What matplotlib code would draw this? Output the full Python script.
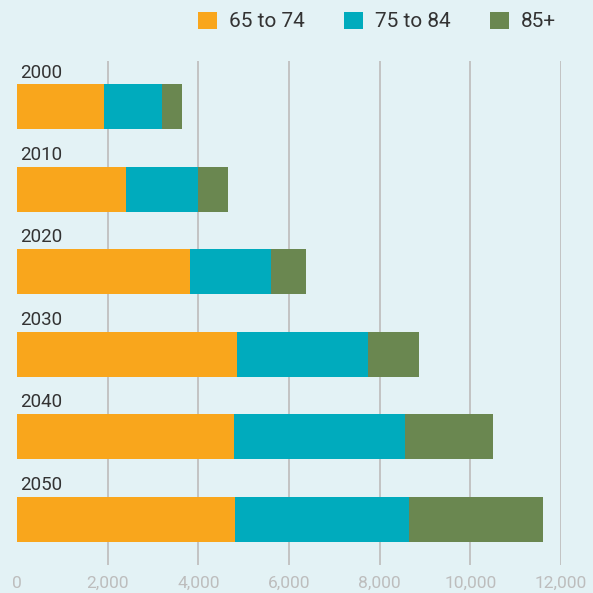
import matplotlib.pyplot as plt
from matplotlib.patches import Patch

years = ["2000", "2010", "2020", "2030", "2040", "2050"]
age_65_74 = [1917, 2400, 3812, 4850, 4783, 4800]
age_75_84 = [1275, 1600, 1792, 2900, 3784, 3850]
age_85_up = [441, 650, 764, 1108, 1941, 2942]
series_names = ["65 to 74", "75 to 84", "85+"]
xticks = [0, 2000, 4000, 6000, 8000, 10000, 12000]

colors = ["#F9A61C", "#00ABBD", "#6A8750"]
bg = "#E3F2F5"

plt.rcParams["font.family"] = ["Roboto", "DejaVu Sans"]

W, H = 593, 593
fig = plt.figure(figsize=(W / 100, H / 100), dpi=100, facecolor=bg)
ax = fig.add_axes([17 / W, 1 - 565 / H, (561 - 17) / W, (565 - 61) / H])
ax.set_facecolor(bg)

ypos = list(range(len(years)))
bar_h = 0.546
left = [0] * len(years)
for vals, col in zip([age_65_74, age_75_84, age_85_up], colors):
    ax.barh(ypos, vals, left=left, height=bar_h, color=col, zorder=3)
    left = [l + v for l, v in zip(left, vals)]

for y, label in zip(ypos, years):
    ax.text(60, y - bar_h / 2 - 0.035, label, ha="left", va="bottom",
            fontsize=13.5, color="#333333")

ax.set_xlim(0, 12000)
ax.set_ylim(5.558, -0.558)
for x in xticks[1:]:
    ax.axvline(x, color="#C3C3C3", lw=1.4, zorder=1)

ax.set_xticks(xticks)
ax.set_xticklabels([f"{t:,}" for t in xticks], fontsize=12.5, color="#BDBDBD")
ax.tick_params(axis="x", length=0, pad=8)
ax.set_yticks([])
for s in ax.spines.values():
    s.set_visible(False)

handles = [Patch(facecolor=c, edgecolor="none", label=n)
           for c, n in zip(colors, series_names)]
leg = fig.legend(handles=handles, loc="center left", ncol=3, frameon=False,
                 bbox_to_anchor=(198 / W, 1 - 21.5 / H), borderpad=0,
                 fontsize=15, handlelength=0.9, handleheight=0.9,
                 handletextpad=0.58, columnspacing=1.9, borderaxespad=0)
for t in leg.get_texts():
    t.set_color("#333333")

fig.savefig("out.png", dpi=100, facecolor=bg)
